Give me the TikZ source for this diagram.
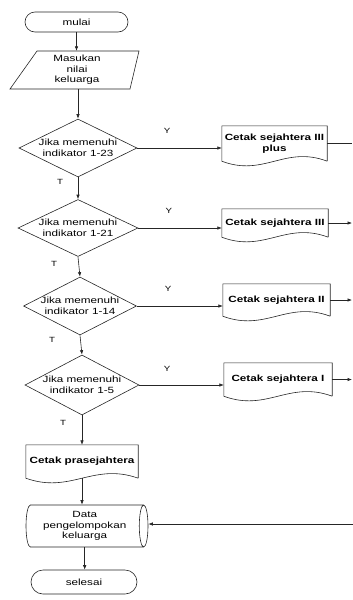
\documentclass[tikz,border=0pt]{standalone}
\usepackage{fontspec}
\setmainfont{Liberation Sans}[FakeStretch=1.3]
\usetikzlibrary{shapes.geometric,arrows.meta,calc}
\newcommand\docoutline[1]{\draw[ln] (#1.south east) -- (#1.north east) -- (#1.north west) -- (#1.south west)
  .. controls ($(#1.south west)!0.4!(#1.south east)+(0,-16)$) and ($(#1.south west)!0.6!(#1.south east)+(0,16)$) .. (#1.south east);}
\begin{document}
\begin{tikzpicture}[x=1pt,y=1pt,
  ln/.style={line width=0.6pt, draw=black!85},
  arr/.style={ln,-{Latex[length=4.5pt,width=3.5pt]}},
  txt/.style={font=\fontsize{9}{10.5}\selectfont, align=center},
  term/.style={txt, draw, ln, rounded corners=10pt, inner sep=0},
  dia/.style={txt, diamond, draw, ln, inner sep=0, aspect=2},
  docbox/.style={txt, font=\fontsize{9}{10.5}\selectfont\bfseries, inner sep=0},
  lab/.style={font=\fontsize{7.5}{8}\selectfont}
]
\useasboundingbox (0,0) rectangle (353,-600);

% terminator start
\node[term, minimum width=103, minimum height=20] (mulai) at (76.5,-22) {mulai};

% input
\node[txt, minimum width=100, minimum height=38, inner sep=0] (para) at (77,-70) {Masukan\\nilai\\keluarga};
\draw[ln] (37,-51) -- (139,-51) -- (130,-89) -- (10,-89) -- cycle;

% decisions
\node[dia, minimum width=118, minimum height=58] (d1) at (78,-148) {Jika memenuhi\\indikator 1-23};
\node[dia, minimum width=120, minimum height=57] (d2) at (78,-228) {Jika memenuhi\\indikator 1-21};
\node[dia, minimum width=112, minimum height=58] (d3) at (80,-306) {Jika memenuhi\\indikator 1-14};
\node[dia, minimum width=114, minimum height=60] (d4) at (82,-385) {Jika memenuhi\\indikator 1-5};

% documents
\node[docbox, minimum width=105, minimum height=35] (c1) at (274.5,-143.5) {Cetak sejahtera III\\plus};
\node[docbox, minimum width=106, minimum height=28] (c2) at (275,-223) {Cetak sejahtera III};
\node[docbox, minimum width=107, minimum height=32] (c3) at (276.5,-300) {Cetak sejahtera II};
\node[docbox, minimum width=108, minimum height=33] (c4) at (278,-379.5) {Cetak sejahtera I};
\node[docbox, minimum width=112, minimum height=33] (c5) at (82,-461.5) {Cetak prasejahtera};
\docoutline{c1}
\docoutline{c2}
\docoutline{c3}
\docoutline{c4}
\docoutline{c5}

% stored data
\node[cylinder, draw, ln, txt, minimum width=42, minimum height=122, aspect=0.3, inner sep=0,
  shape border rotate=0, anchor=shape center] (cyl) at (87,-526) {Data\\pengelompokan\\keluarga};

% terminator end
\node[term, minimum width=106, minimum height=24, rounded corners=12pt] (selesai) at (84,-582) {selesai};

% labels
\node[lab] (y1) at (167,-131) {Y};
\node[lab] (y2) at (169,-211) {Y};
\node[lab] (y3) at (168,-289) {Y};
\node[lab] (y4) at (167,-369) {Y};
\node[lab] (t1) at (60,-182) {T};
\node[lab] (t2) at (54,-264) {T};
\node[lab] (t3) at (52,-340) {T};
\node[lab] (t4) at (63,-423) {T};

% right edge coordinates
\coordinate (edge) at (352,0);
\coordinate (cin) at (353,-524);

% connectors
\draw[arr] (mulai.south) -- (mulai.south |- para.north);
\draw[arr] (d1.north |- para.south) -- (d1.north);
\draw[arr] (d1.south) -- (d2.north);
\draw[arr] (d2.south) -- (d3.north);
\draw[arr] (d3.south) -- (d4.north);
\draw[arr] (d4.south) -- (d4.south |- c5.north);
\draw[arr] (c5.south) -- (c5.south |- cyl.north);
\draw[arr] (cyl.south) -- (cyl.south |- selesai.north);

\draw[arr] (d1.east) -- (d1.east -| c1.west);
\draw[arr] (d2.east) -- (d2.east -| c2.west);
\draw[arr] (d3.east) -- (d3.east -| c3.west);
\draw[arr] (d4.east) -- (d4.east -| c4.west);

\draw[ln] (c1.east) -- (c1.east -| edge);
\draw[arr] (c2.east) -- (c2.east -| edge);
\draw[arr] (c3.east) -- (c3.east -| edge);
\draw[arr] (c4.east) -- (c4.east -| edge);
\draw[arr] (cin) -- (cin -| cyl.east);
\end{tikzpicture}
\end{document}
